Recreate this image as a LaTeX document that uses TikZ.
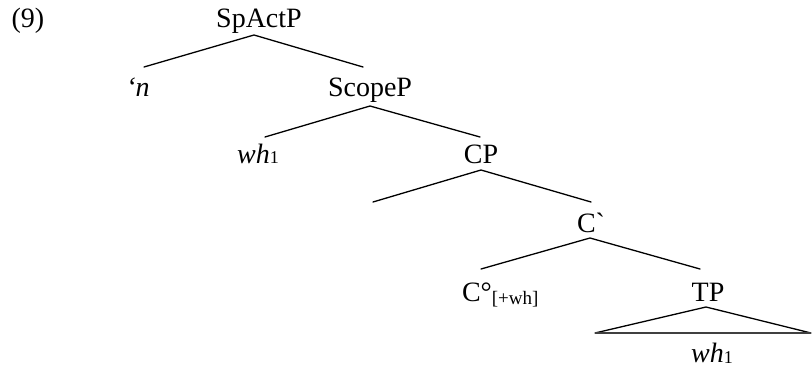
\documentclass[tikz,border=0pt]{standalone}
\usepackage{fontspec}
\setmainfont{Liberation Serif}
\tikzset{
  lbl/.style={anchor=base, inner sep=0pt, outer sep=0pt, font=\fontsize{28}{30}\selectfont},
  branch/.style={line width=1.3pt, line cap=round},
  basebar/.style={line width=1.7pt, draw=black!75}
}
\newcommand{\subsz}[1]{\raisebox{-1pt}{\fontsize{18}{18}\selectfont #1}}
\newcommand{\featsz}[1]{\raisebox{-3pt}{\fontsize{19}{19}\selectfont #1}}
\begin{document}
\begin{tikzpicture}[x=1pt,y=-1pt]
\useasboundingbox (0,0) rectangle (812,369);
% labels
\node[lbl] (ex) at (28,28) {(9)};
\node[lbl] (sp) at (259,28) {SpActP};
\node[lbl] (n) at (138,96) {\textit{‘n}};
\node[lbl] (sc) at (370,96) {ScopeP};
\node[lbl] (wh) at (258,163) {\textit{wh}\subsz{1}};
\node[lbl] (cp) at (481,163) {CP};
\node[lbl] (cbar) at (591,232) {C\textasciigrave};
\node[lbl, anchor=base west] (c0) at (462,301) {C°\featsz{[+wh]}};
\node[lbl] (tp) at (708,301) {TP};
\node[lbl] (wh2) at (712,362) {\textit{wh}\subsz{1}};
% branch points
\coordinate (spA) at (254,35);
\coordinate (spL) at (144,67);
\coordinate (spR) at (363,67);
\coordinate (scA) at (370,106);
\coordinate (scL) at (265,137);
\coordinate (scR) at (480,137);
\coordinate (cpA) at (481,170);
\coordinate (cpL) at (373,202);
\coordinate (cpR) at (591,202);
\coordinate (cbA) at (590,238);
\coordinate (cbL) at (481,269);
\coordinate (cbR) at (700,269);
\coordinate (tpA) at (706,307);
\coordinate (tpL) at (595,333);
\coordinate (tpR) at (811,333);
% branches
\draw[branch] (spL) -- (spA) -- (spR);
\draw[branch] (scL) -- (scA) -- (scR);
\draw[branch] (cpL) -- (cpA) -- (cpR);
\draw[branch] (cbL) -- (cbA) -- (cbR);
\draw[branch] (tpL) -- (tpA) -- (tpR);
\draw[basebar] (tpL) -- (tpR);
\end{tikzpicture}
\end{document}
